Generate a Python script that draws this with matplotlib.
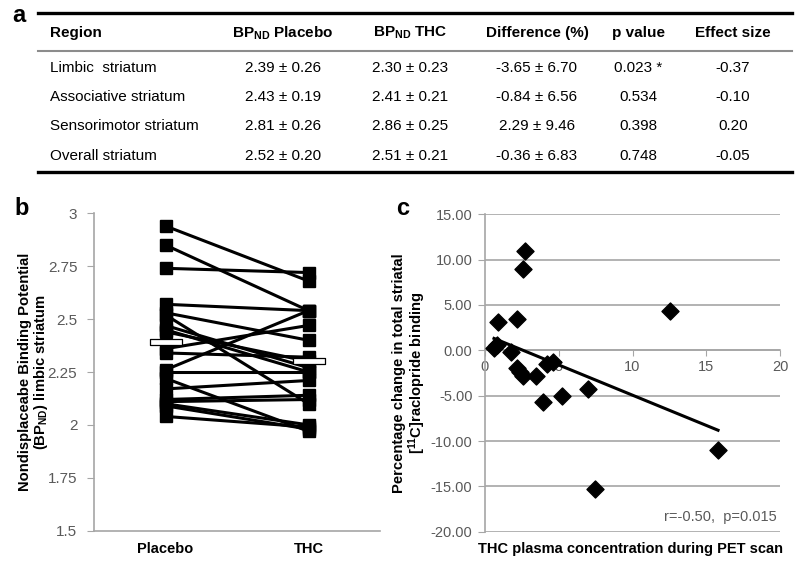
import numpy as np
import matplotlib
matplotlib.use("Agg")
import matplotlib.pyplot as plt
from matplotlib.path import Path

plt.rcParams['font.family'] = ['Liberation Sans', 'DejaVu Sans']
plt.rcParams['mathtext.fontset'] = 'custom'
plt.rcParams['mathtext.rm'] = 'Liberation Sans'
plt.rcParams['mathtext.bf'] = 'Liberation Sans:bold'
plt.rcParams['mathtext.it'] = 'Liberation Sans:italic'
plt.rcParams['mathtext.default'] = 'regular'

# ---- panel a: table ----
regions = ['Limbic  striatum', 'Associative striatum', 'Sensorimotor striatum', 'Overall striatum']
bp_placebo_mean = [2.39, 2.43, 2.81, 2.52]
bp_placebo_sd = [0.26, 0.19, 0.26, 0.20]
bp_thc_mean = [2.30, 2.41, 2.86, 2.51]
bp_thc_sd = [0.23, 0.21, 0.25, 0.21]
diff_mean = [-3.65, -0.84, 2.29, -0.36]
diff_sd = [6.70, 6.56, 9.46, 6.83]
p_values = ['0.023 *', '0.534', '0.398', '0.748']
effect_size = ['-0.37', '-0.10', '0.20', '-0.05']
headers = ['Region', 'BP$_{ND}$ Placebo', 'BP$_{ND}$ THC', 'Difference (%)', 'p value', 'Effect size']

# ---- panel b: paired limbic BPND ----
groups = ['Placebo', 'THC']
placebo_bp = [2.94, 2.85, 2.74, 2.57, 2.53, 2.52, 2.47, 2.45, 2.44, 2.36,
              2.34, 2.26, 2.25, 2.22, 2.17, 2.12, 2.11, 2.10, 2.09, 2.04]
thc_bp = [2.68, 2.54, 2.72, 2.54, 2.40, 2.10, 2.27, 2.25, 2.30, 2.47,
          2.32, 2.54, 2.25, 1.97, 2.21, 2.14, 2.12, 2.00, 1.98, 1.99]

# ---- panel c: THC plasma vs % change ----
thc_plasma = [0.61, 0.79, 0.90, 1.74, 2.19, 2.19, 2.40, 2.58, 2.58, 2.73,
              3.46, 3.90, 4.18, 4.59, 5.22, 7.00, 7.48, 12.54, 15.80]
pct_change = [0.26, 0.63, 3.10, -0.18, 3.45, -1.95, -2.40, -2.86, 9.00, 10.90,
              -2.80, -5.70, -1.50, -1.25, -5.00, -4.25, -15.30, 4.30, -11.00]

W, H = 800, 561
fig = plt.figure(figsize=(8, 5.61), dpi=100)

# table drawn in pixel coordinates
ta = fig.add_axes([0, 0, 1, 1])
ta.set_xlim(0, W)
ta.set_ylim(H, 0)
ta.axis('off')
ta.plot([38, 792], [13, 13], color='black', lw=2.4)
ta.plot([38, 792], [51, 51], color='#8c8c8c', lw=1.5)
ta.plot([38, 792], [172, 172], color='black', lw=2.4)
col_x = [50, 283, 410, 537, 638, 733]
ta.text(col_x[0], 33, headers[0], ha='left', va='center', fontsize=11, fontweight='bold')
for x, h in zip(col_x[1:], headers[1:]):
    ta.text(x, 33, h, ha='center', va='center', fontsize=11, fontweight='bold')
row_y = [68, 97, 126, 156]
for i, y in enumerate(row_y):
    cells = [f"{bp_placebo_mean[i]:.2f} \u00b1 {bp_placebo_sd[i]:.2f}",
             f"{bp_thc_mean[i]:.2f} \u00b1 {bp_thc_sd[i]:.2f}",
             f"{diff_mean[i]:.2f} \u00b1 {diff_sd[i]:.2f}",
             p_values[i], effect_size[i]]
    ta.text(col_x[0], y, regions[i], ha='left', va='center', fontsize=11)
    for x, c in zip(col_x[1:], cells):
        ta.text(x, y, c, ha='center', va='center', fontsize=11)

fig.text(12 / W, 1 - 16 / H, 'a', fontsize=17, fontweight='bold', va='center')
fig.text(14 / W, 1 - 208 / H, 'b', fontsize=17, fontweight='bold', va='center')
fig.text(396 / W, 1 - 208 / H, 'c', fontsize=17, fontweight='bold', va='center')

gray = '#a6a6a6'
tick_col = '#595959'

# panel b
axb = fig.add_axes([94 / W, 1 - 530.7 / H, 286 / W, 317.4 / H])
for p, t in zip(placebo_bp, thc_bp):
    axb.plot([0, 1], [p, t], color='black', lw=2.2, marker='s', ms=8.5,
             solid_capstyle='butt')
rect = Path([(-4.8, -1), (4.8, -1), (4.8, 1), (-4.8, 1), (-4.8, -1)],
            [Path.MOVETO, Path.LINETO, Path.LINETO, Path.LINETO, Path.CLOSEPOLY])
axb.plot([0, 1], [bp_placebo_mean[0], bp_thc_mean[0]], ls='none', marker=rect,
         ms=23, mfc='white', mec='black', mew=0.9, zorder=5)
axb.set_xlim(-0.5, 1.5)
axb.set_ylim(1.5, 3)
axb.set_yticks([1.5, 1.75, 2, 2.25, 2.5, 2.75, 3])
axb.set_yticklabels([f"{v:g}" for v in [1.5, 1.75, 2, 2.25, 2.5, 2.75, 3]])
axb.set_xticks([0, 1])
axb.set_xticklabels(groups, fontweight='bold', fontsize=10.5)
axb.tick_params(axis='x', length=0, pad=8)
axb.tick_params(axis='y', length=5, color=gray, labelcolor=tick_col, labelsize=11, pad=7)
for s in ['top', 'right']:
    axb.spines[s].set_visible(False)
for s in ['left', 'bottom']:
    axb.spines[s].set_color(gray)
    axb.spines[s].set_linewidth(1.2)
axb.set_ylabel('Nondisplaceabe Binding Potential\n(BP$_{ND}$) limbic striatum',
               fontweight='bold', fontsize=10.6, labelpad=-2, linespacing=1.05)

# panel c
axc = fig.add_axes([485 / W, 1 - 531.7 / H, 295 / W, 317.4 / H])
axc.set_xlim(0, 20)
axc.set_ylim(-20, 15)
axc.set_yticks(np.arange(-20, 16, 5))
axc.set_yticklabels([f"{v:.2f}" for v in np.arange(-20, 16, 5)])
axc.set_xticks([0, 5, 10, 15, 20])
axc.grid(axis='y', color=gray, lw=1.2)
axc.set_axisbelow(True)
axc.spines['bottom'].set_position(('data', 0))
for s in ['top', 'right']:
    axc.spines[s].set_visible(False)
for s in ['left', 'bottom']:
    axc.spines[s].set_color(gray)
    axc.spines[s].set_linewidth(1.2)
axc.tick_params(axis='y', length=5, color=gray, labelcolor=tick_col, labelsize=10.5, pad=4)
axc.tick_params(axis='x', length=4, color=gray, labelcolor=tick_col, labelsize=10.5, pad=3)
axc.scatter(thc_plasma, pct_change, marker='D', s=75, color='black', zorder=3)
slope, icpt = np.polyfit(thc_plasma, pct_change, 1)
xl = np.array([min(thc_plasma), max(thc_plasma)])
axc.plot(xl, slope * xl + icpt, color='black', lw=2.2, zorder=3)
axc.text(0.99, 0.025, 'r=-0.50,  p=0.015', transform=axc.transAxes, ha='right',
         va='bottom', fontsize=10.5, color=tick_col)
axc.set_ylabel('Percentage change in total striatal\n[$^{11}$C]raclopride binding',
               fontweight='bold', fontsize=10.6, labelpad=2, linespacing=1.05)
fig.text(630 / W, 1 - 549 / H, 'THC plasma concentration during PET scan',
         ha='center', va='center', fontweight='bold', fontsize=10.5)

fig.savefig('out.png', dpi=100)
